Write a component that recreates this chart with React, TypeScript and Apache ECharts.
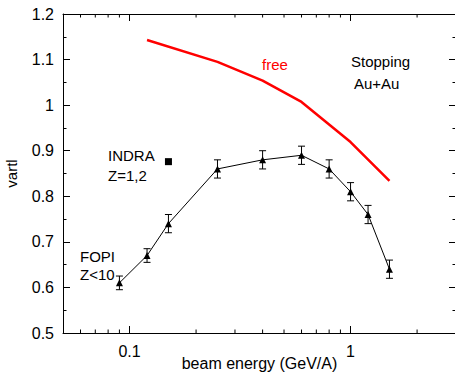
import React, { useEffect, useRef } from "react";
import * as echarts from "echarts";

// FOPI Z<10 data (beam energy GeV/A, vartl, error)
const fopiEnergy = [0.09, 0.12, 0.15, 0.25, 0.4, 0.6, 0.8, 1.0, 1.2, 1.5];
const fopiVartl = [0.61, 0.67, 0.74, 0.86, 0.88, 0.89, 0.86, 0.81, 0.76, 0.64];
const fopiError = [0.015, 0.015, 0.02, 0.02, 0.02, 0.02, 0.02, 0.02, 0.02, 0.02];

// "free" curve
const freeEnergy = [0.12, 0.25, 0.4, 0.6, 1.0, 1.5];
const freeVartl = [1.143, 1.095, 1.054, 1.007, 0.919, 0.834];

// INDRA Z=1,2 point
const indraEnergy = [0.15];
const indraVartl = [0.876];

// axis ranges and minor log ticks
const xMin = 0.05;
const xMax = 3;
const yMin = 0.5;
const yMax = 1.2;
const yStep = 0.1;
const xMinorTicks = [0.06, 0.07, 0.08, 0.09, 0.2, 0.3, 0.4, 0.5, 0.6, 0.7, 0.8, 0.9, 2];

const FONT = "Liberation Sans";

export default function App() {
  const ref = useRef<HTMLDivElement>(null);

  useEffect(() => {
    if (!ref.current) return;
    const chart = echarts.init(ref.current, undefined, { renderer: "svg" });

    const axisLineStyle = { color: "#000", width: 1 };
    const isPow10 = (v: number) => Math.abs(Math.log10(v) - Math.round(Math.log10(v))) < 1e-6;

    const xCommon = {
      type: "log" as const,
      logBase: 10,
      min: xMin,
      max: xMax,
      axisLine: { show: true, lineStyle: axisLineStyle },
      axisTick: { show: true, inside: true, length: 7, lineStyle: axisLineStyle },
      splitLine: { show: false },
      minorTick: { show: false },
      minorSplitLine: { show: false },
    };

    const yCommon = {
      type: "value" as const,
      min: yMin,
      max: yMax,
      interval: yStep,
      axisLine: { show: true, lineStyle: axisLineStyle },
      axisTick: { show: true, inside: true, length: 7, lineStyle: axisLineStyle },
      minorTick: { show: true, splitNumber: 2, length: 3.5, lineStyle: axisLineStyle },
      splitLine: { show: false },
    };

    const textStyle = (text: string, x: number, y: number, fill = "#000") => ({
      type: "text",
      x,
      y,
      silent: true,
      style: {
        text,
        fill,
        font: `15px "${FONT}"`,
        verticalAlign: "middle",
        align: "left",
      },
    });

    chart.setOption({
      animation: false,
      backgroundColor: "#fff",
      textStyle: { fontFamily: FONT },
      grid: {
        left: 63,
        right: -1,
        top: 14,
        bottom: 40,
        containLabel: false,
        outerBoundsMode: "none",
      },
      xAxis: [
        {
          ...xCommon,
          position: "bottom",
          name: "beam energy (GeV/A)",
          nameLocation: "middle",
          nameGap: 22,
          nameMoveOverlap: false,
          nameTextStyle: { fontSize: 16, color: "#000", fontFamily: FONT },
          axisLabel: {
            show: true,
            fontSize: 16,
            color: "#000",
            fontFamily: FONT,
            margin: 10,
            showMinLabel: false,
            showMaxLabel: false,
            formatter: (v: number) => (isPow10(v) ? String(Number(v.toPrecision(6))) : ""),
          },
        },
        {
          ...xCommon,
          position: "top",
          axisLabel: { show: false },
        },
      ],
      yAxis: [
        {
          ...yCommon,
          position: "left",
          name: "vartl",
          nameLocation: "middle",
          nameGap: 44,
          nameMoveOverlap: false,
          nameTextStyle: { fontSize: 15, color: "#000", fontFamily: FONT },
          axisLabel: {
            show: true,
            fontSize: 16,
            color: "#000",
            fontFamily: FONT,
            margin: 9,
            formatter: (v: number) => String(Number(v.toFixed(2))),
          },
        },
        {
          ...yCommon,
          position: "right",
          axisLabel: { show: false },
        },
      ],
      graphic: [
        textStyle("INDRA", 108, 155),
        textStyle("Z=1,2", 108, 175),
        textStyle("FOPI", 80, 256),
        textStyle("Z<10", 80, 274),
        textStyle("free", 262, 64, "#ff0000"),
        textStyle("Stopping", 351, 61),
        textStyle("Au+Au", 354, 83),
      ],
      series: [
        {
          type: "custom",
          name: "minorTicks",
          silent: true,
          xAxisIndex: 0,
          yAxisIndex: 0,
          data: xMinorTicks.map((v) => [v]),
          renderItem: (params: any, api: any) => {
            const v = api.value(0);
            const b = api.coord([v, yMin]);
            const t = api.coord([v, yMax]);
            const style = { stroke: "#000", lineWidth: 1 };
            return {
              type: "group",
              children: [
                { type: "line", shape: { x1: b[0], y1: b[1], x2: b[0], y2: b[1] - 3.5 }, style },
                { type: "line", shape: { x1: t[0], y1: t[1], x2: t[0], y2: t[1] + 3.5 }, style },
              ],
            };
          },
        },
        {
          type: "line",
          name: "free",
          data: freeEnergy.map((x, i) => [x, freeVartl[i]]),
          showSymbol: false,
          symbol: "none",
          lineStyle: { color: "#ff0000", width: 2.5 },
          itemStyle: { color: "#ff0000" },
          z: 3,
        },
        {
          type: "custom",
          name: "errors",
          silent: true,
          data: fopiEnergy.map((x, i) => [x, fopiVartl[i], fopiError[i]]),
          renderItem: (params: any, api: any) => {
            const x = api.value(0);
            const y = api.value(1);
            const e = api.value(2);
            const top = api.coord([x, y + e]);
            const bot = api.coord([x, y - e]);
            const hw = 3.5;
            const style = { stroke: "#000", lineWidth: 1 };
            return {
              type: "group",
              children: [
                { type: "line", shape: { x1: top[0], y1: top[1], x2: bot[0], y2: bot[1] }, style },
                { type: "line", shape: { x1: top[0] - hw, y1: top[1], x2: top[0] + hw, y2: top[1] }, style },
                { type: "line", shape: { x1: bot[0] - hw, y1: bot[1], x2: bot[0] + hw, y2: bot[1] }, style },
              ],
            };
          },
          z: 4,
        },
        {
          type: "line",
          name: "FOPI",
          data: fopiEnergy.map((x, i) => [x, fopiVartl[i]]),
          symbol: "triangle",
          symbolSize: 7,
          showSymbol: true,
          lineStyle: { color: "#000", width: 1 },
          itemStyle: { color: "#000", opacity: 1 },
          z: 5,
        },
        {
          type: "scatter",
          name: "INDRA",
          data: indraEnergy.map((x, i) => [x, indraVartl[i]]),
          symbol: "rect",
          symbolSize: 7,
          itemStyle: { color: "#000", opacity: 1 },
          z: 5,
        },
      ],
    });

    return () => chart.dispose();
  }, []);

  return (
    <div
      ref={ref}
      style={{ position: "fixed", left: 0, top: 0, width: 455, height: 373, background: "#fff" }}
    />
  );
}
